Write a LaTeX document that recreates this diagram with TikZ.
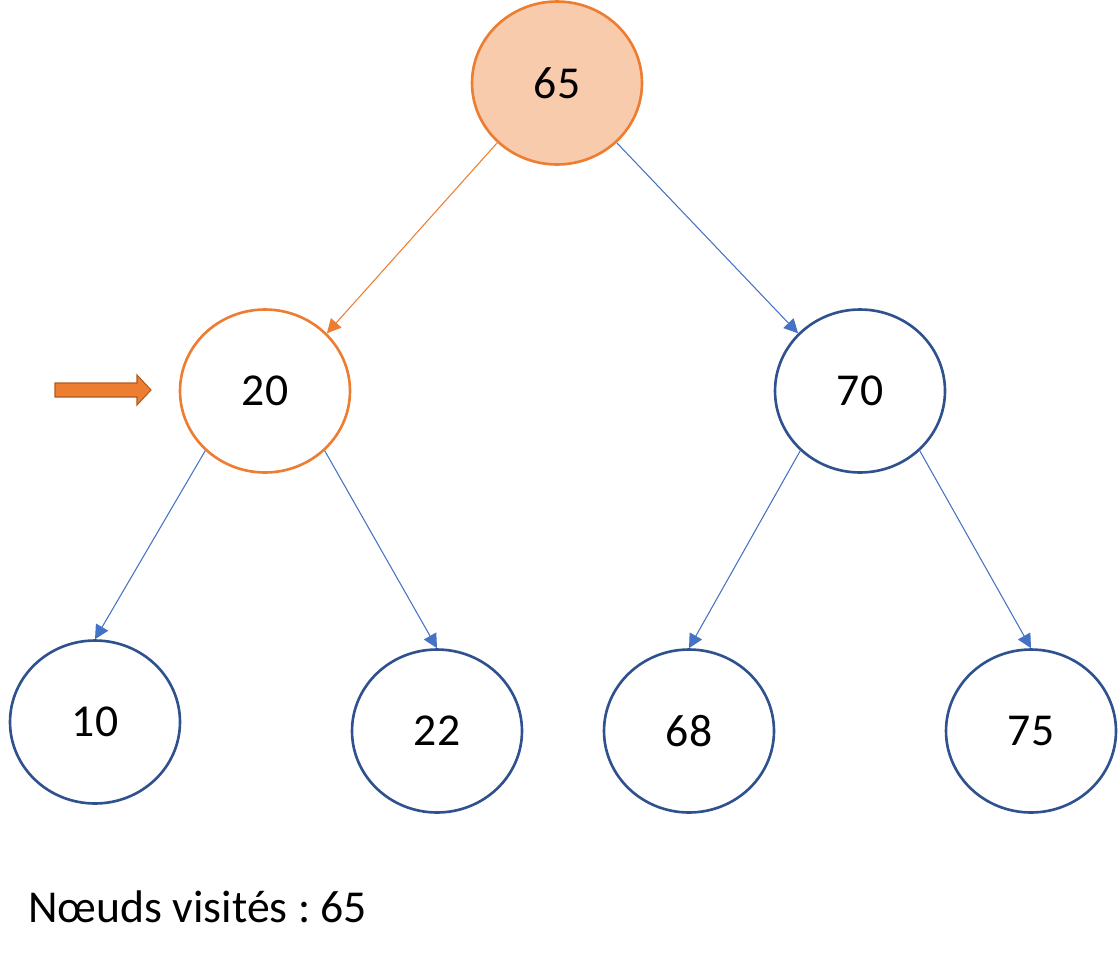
\documentclass[tikz,border=0pt]{standalone}
\usepackage{fontspec}
\setmainfont{Carlito}
\usepackage{tikz}
\usetikzlibrary{arrows.meta,shapes.geometric}
\definecolor{accentorange}{HTML}{ED7D31}
\definecolor{lightorange}{HTML}{F8CBAD}
\definecolor{darkorange}{HTML}{AE5A21}
\definecolor{lineblue}{HTML}{4472C4}
\definecolor{borderblue}{HTML}{2F528F}
\tikzset{
    treenode/.style={
           ellipse,
           draw=borderblue, line width=1.5pt,
           minimum width=3.4cm,
           minimum height=3.26cm,
           inner sep=0pt,
           font=\fontsize{26}{30}\selectfont,
           },
    current/.style={treenode, draw=accentorange},
    visited/.style={treenode, draw=accentorange, fill=lightorange},
    link/.style={draw=lineblue, line width=0.6pt, -{Triangle[length=8pt,width=8pt]}},
    pointer/.style={fill=accentorange, draw=darkorange, line width=0.6pt},
}
\frenchspacing

\begin{document}
\begin{tikzpicture}[x=0.02cm,y=-0.02cm]

 % page size
 \useasboundingbox (0,0) rectangle (1118,960);

 % root, already visited
 \node[visited] (N65) at (557,83) {65};

 % second level: 20 is the node being looked at
 \node[current] (N20) at (265,391) {20};
 \node[treenode] (N70) at (860,391) {70};

 % leaves
 \node[treenode] (N10) at (95,722) {10};
 \node[treenode] (N22) at (437,731) {22};
 \node[treenode] (N68) at (689,731) {68};
 \node[treenode] (N75) at (1031,731) {75};

 % the edges of the tree
 \path (N65.225) edge[link,draw=accentorange] (N20.43)
       (N65.-45) edge[link]                   (N70.137)
       (N20.225) edge[link]                   (N10.north)
       (N20.-45) edge[link]                   (N22.north)
       (N70.225) edge[link]                   (N68.north)
       (N70.-45) edge[link]                   (N75.north);

 % block arrow pointing at the current node
 \draw[pointer] (55,383) -- (137,383) -- (137,375) -- (151,390)
       -- (137,405) -- (137,397) -- (55,397) -- cycle;

 % list of visited nodes
 \node[anchor=base west,inner sep=0pt,font=\fontsize{26}{30}\selectfont] (VISITED)
      at (28,922) {Nœuds visités : 65};
\end{tikzpicture}
\end{document}
